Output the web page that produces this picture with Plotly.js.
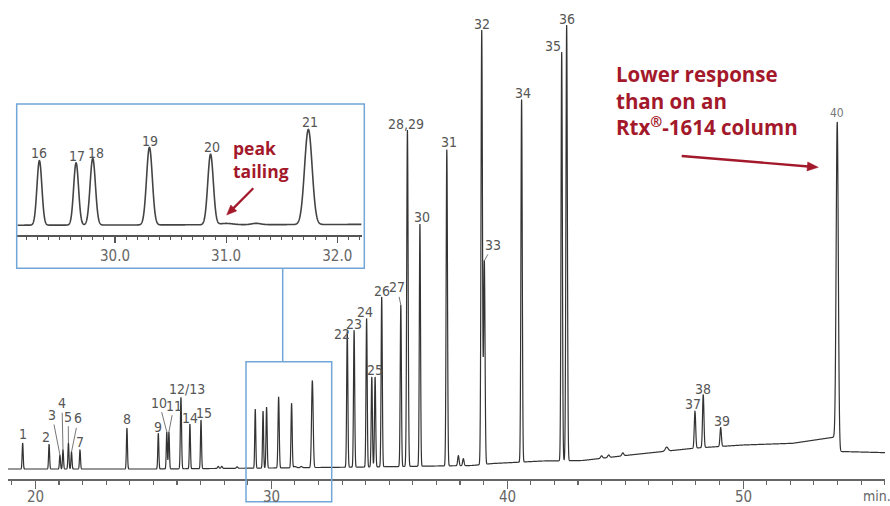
<!DOCTYPE html>
<html><head><meta charset="utf-8">
<script src="https://cdn.plot.ly/plotly-3.0.1.min.js"></script>
<style>html,body{margin:0;padding:0;background:#fff}</style>
</head><body><div id="chart" style="width:890px;height:506px"></div>
<script>
// ---------- DATA ----------
// labelled peaks: retention time (min), height above baseline (response), width sigma (min)
const peakLabels  = ['1','2','3','4','5','6','7','8','9','10','11','12/13','14','15',
                     '16','17','18','19','20','21',
                     '22','23','24','25','26','27','28,29','30','31','32','33','34','35','36',
                     '37','38','39','40'];
const peakTimes   = [19.46,20.58,21.04,21.17,21.40,21.53,21.89,23.88,25.21,25.57,25.66,26.17,26.55,27.02,
                     29.32,29.65,29.80,30.31,30.86,31.74,
                     33.22,33.51,34.04,34.26,34.68,35.49,35.77,36.30,37.44,38.92,39.03,40.61,42.31,42.52,
                     47.96,48.31,49.05,53.99];
const peakHeights = [26,24.7,14,19,26,17,19,41,35.7,37,37,71.5,44.7,48.6,
                     59,57,61,71,64.5,87,
                     136,137,148.7,90,170,161.5,336.4,242.3,316.6,434.4,203.5,362.8,408.7,435.7,
                     36.8,53,18.8,321];
const peakSigmas  = [0.022,0.022,0.022,0.022,0.022,0.022,0.022,0.022,0.022,0.022,0.022,0.025,0.022,0.022,
                     0.022,0.022,0.024,0.026,0.025,0.034,
                     0.025,0.025,0.025,0.025,0.025,0.025,0.03,0.025,0.028,0.03,0.03,0.028,0.028,0.03,
                     0.03,0.03,0.03,0.045];
// unlabelled small peaks / bumps
const minorTimes   = [27.75,27.90,28.55,31.00,31.27,34.40,37.93,38.14,44.00,44.30,44.90,46.76];
const minorHeights = [2,2,1.5,1.2,1.2,90,10,7,2.5,2.5,3,4];
const minorSigmas  = [0.03,0.03,0.03,0.06,0.04,0.025,0.03,0.03,0.04,0.04,0.04,0.06];
// baseline drift read at several times
const baseTimes  = [18.8,25,30,34,38.5,39.4,41.5,43.2,45.2,46.6,48,50,52.1,53.9,54.12,56.1];
const baseValues = [10,10,11,12,13.5,15.5,18,18.5,24,27.5,31,34,35.7,42,27.5,26.3];
// peaks labelled only in the inset (16-21)
const insetPeaks = ['16','17','18','19','20','21'];
// axis ticks
const mainTickVals = [20,30,40,50];
const mainTickText = ['20','30','40','50'];
const insetTickVals = [30,31,32];
// annotation texts
const noteText = 'Lower response<br>than on an<br>Rtx<sup>®</sup>-1614 column';
const tailText = 'peak<br>tailing';

// ---------- label placement (pixels) ----------
// [dx, up]: label centre relative to the peak top
const labelOffsets = {
  '1':[0,9.5],'2':[-2.8,7.6],'7':[0.2,8.3],'8':[0,8.7],'9':[0,6.6],'12/13':[5.7,8.3],'14':[0.3,5.7],'15':[2.7,7.2],
  '22':[-5,-3],'23':[0,6],'24':[-1.7,6.6],'25':[3.3,7],'26':[0,6],'28,29':[-1.5,5.8],'30':[2.5,6.7],'31':[2.3,6.8],
  '32':[0.5,6],'34':[1.1,6.2],'35':[-8.4,6],'36':[0,5.8],'37':[-2,7.7],'38':[0,6],'39':[1,6.7],'40':[0,8.5],
  '16':[0,7.9],'17':[1,7.2],'18':[3.1,5.8],'19':[1,6.5],'20':[1.8,7.1],'21':[1.2,7.5]
};
// [ax, ay]: labels joined to their peak by a leader line
const leaders = {'3':[-7.8,-40],'4':[-1,-46.7],'5':[-0.2,-26.3],'6':[6.8,-33.7],
                 '10':[-7.6,-29.2],'11':[5,-26.2],'27':[-3.7,-17.7],'33':[8.7,-15.9]};

// ---------- build trace ----------
function baseline(t){
  if (t <= baseTimes[0]) return baseValues[0];
  for (let i=1;i<baseTimes.length;i++){
    if (t <= baseTimes[i]){
      const f=(t-baseTimes[i-1])/(baseTimes[i]-baseTimes[i-1]);
      return baseValues[i-1]+f*(baseValues[i]-baseValues[i-1]);
    }
  }
  return baseValues[baseValues.length-1];
}
function gaussSum(t, times, heights, sigmas){
  let v=0;
  for (let i=0;i<times.length;i++){
    const z=(t-times[i])/sigmas[i];
    if (Math.abs(z)<8) v+=heights[i]*Math.exp(-0.5*z*z);
  }
  return v;
}
function signal(t){ return baseline(t)+gaussSum(t,peakTimes,peakHeights,peakSigmas)+gaussSum(t,minorTimes,minorHeights,minorSigmas); }

const X0=18.838, X1=56.015, IX0=29.121, IX1=32.22;
const mx=[], my=[], ix=[], iy=[];
for (let t=X0; t<=X1; t+=0.003){ mx.push(t); my.push(signal(t)); }
for (let t=IX0; t<=IX1; t+=0.0015){ ix.push(t); iy.push(signal(t)); }

// pixel helpers (plot area: x 8..885, y 5..479)
const L=8, W=877, B=479, H=474;
const px = p => (p-L)/W;
const py = p => (B-p)/H;

const narrow = '"Liberation Sans Narrow","Arial Narrow","DejaVu Sans Condensed",sans-serif';
const labelFont = {family:narrow, size:14, color:'#555'};
const red = '#a3192b';
const boldFont = s => ({family:'"Open Sans",sans-serif',size:s,color:red});

const annotations=[];
peakLabels.forEach((lab,i)=>{
  const t=peakTimes[i], top=baseline(t)+peakHeights[i];
  const inset = insetPeaks.includes(lab);
  const xr = inset?'x2':'x', yr = inset?'y2':'y';
  if (leaders[lab]){
    annotations.push({xref:xr,yref:yr,x:t,y:top,text:lab,showarrow:true,arrowhead:0,arrowwidth:0.9,
      arrowcolor:'#666',ax:leaders[lab][0],ay:leaders[lab][1],standoff:0,font:labelFont});
  } else {
    const o=labelOffsets[lab]||[0,7];
    annotations.push({xref:xr,yref:yr,x:t,y:top,text:lab,showarrow:false,xshift:o[0],yshift:o[1],
      xanchor:'center',yanchor:'middle',font: lab==='40'?{family:narrow,size:12,color:'#777'}:labelFont});
  }
});
// main axis tick labels
mainTickVals.forEach((v,i)=>annotations.push({xref:'x',yref:'paper',x:v,y:py(497),text:mainTickText[i],showarrow:false,
  xanchor:'center',yanchor:'middle',font:{family:narrow,size:15,color:'#666'}}));
annotations.push({xref:'paper',yref:'paper',x:px(877),y:py(496),text:'min.',showarrow:false,
  xanchor:'center',yanchor:'middle',font:{family:narrow,size:14,color:'#666'}});
annotations.push({xref:'paper',yref:'paper',x:px(614),y:py(100),xanchor:'left',yanchor:'middle',
  align:'left',text:'<b>'+noteText+'</b>',showarrow:false,font:boldFont(20.5)});
annotations.push({xref:'paper',yref:'paper',x:px(231),y:py(159.5),xanchor:'left',yanchor:'middle',
  align:'left',text:'<b>'+tailText+'</b>',showarrow:false,font:boldFont(17.5)});

const blue='#72a6d8';
const shapes=[
  {type:'rect',xref:'paper',yref:'paper',x0:px(16.7),x1:px(364.3),y0:py(268.3),y1:py(104),line:{color:blue,width:1.5}},
  {type:'rect',xref:'paper',yref:'paper',x0:px(246),x1:px(331.7),y0:py(501.7),y1:py(361.7),line:{color:blue,width:1.5}},
  {type:'line',xref:'paper',yref:'paper',x0:px(282.7),x1:px(282.7),y0:py(361.7),y1:py(268.3),line:{color:blue,width:1.5}}
];
// red call-out arrows (pixel geometry -> paper shapes)
function arrow(sx,sy,tx,ty,w,hl,hw){
  const dx=tx-sx, dy=ty-sy, len=Math.hypot(dx,dy), ux=dx/len, uy=dy/len, nx=-uy, ny=ux;
  const bx=tx-ux*hl, by=ty-uy*hl;
  shapes.push({type:'line',xref:'paper',yref:'paper',x0:px(sx),y0:py(sy),x1:px(bx+ux),y1:py(by+uy),line:{color:red,width:w}});
  shapes.push({type:'path',xref:'paper',yref:'paper',fillcolor:red,line:{color:red,width:0.5},
    path:`M${px(tx)},${py(ty)} L${px(bx+nx*hw)},${py(by+ny*hw)} L${px(bx-nx*hw)},${py(by-ny*hw)} Z`});
}
arrow(681.7,156,818.3,167.3,2.4,11,4.5);
arrow(253.3,188.3,226.7,215,2.2,10,4.2);

const data=[
  {x:mx,y:my,type:'scatter',mode:'lines',line:{color:'#333',width:1.2,simplify:false},xaxis:'x',yaxis:'y',hoverinfo:'skip'},
  {x:ix,y:iy,type:'scatter',mode:'lines',line:{color:'#444',width:1.6,simplify:false},xaxis:'x2',yaxis:'y2',hoverinfo:'skip'}
];
const tickFont={family:narrow,size:15,color:'#666'};
const layout={
  width:890,height:506,margin:{l:L,r:5,t:5,b:27},paper_bgcolor:'#fff',plot_bgcolor:'rgba(0,0,0,0)',showlegend:false,
  xaxis:{range:[X0,X1],showline:true,linecolor:'#666',linewidth:1.5,ticks:'outside',ticklen:8,tickwidth:1.2,tickcolor:'#666',
    tickvals:mainTickVals,showticklabels:false,showgrid:false,zeroline:false,
    minor:{dtick:1,tick0:0,ticks:'outside',ticklen:4,tickwidth:1.1,tickcolor:'#666',showgrid:false}},
  yaxis:{range:[0,H],visible:false,showgrid:false,zeroline:false},
  xaxis2:{domain:[px(17.3),px(361.7)],anchor:'y2',range:[IX0,IX1],showline:true,linecolor:'#555',linewidth:1.5,
    ticks:'outside',ticklen:6,tickwidth:1.2,tickcolor:'#555',tickvals:insetTickVals,tickformat:'.1f',showgrid:false,zeroline:false,
    tickfont:tickFont,minor:{dtick:0.1,tick0:0,ticks:'outside',ticklen:3.5,tickwidth:1,tickcolor:'#555',showgrid:false}},
  yaxis2:{domain:[py(235),py(104)],anchor:'x2',range:[1.84,121.8],visible:false,showgrid:false,zeroline:false},
  annotations:annotations,shapes:shapes
};
Plotly.newPlot('chart',data,layout,{staticPlot:true,displayModeBar:false});
</script></body></html>
